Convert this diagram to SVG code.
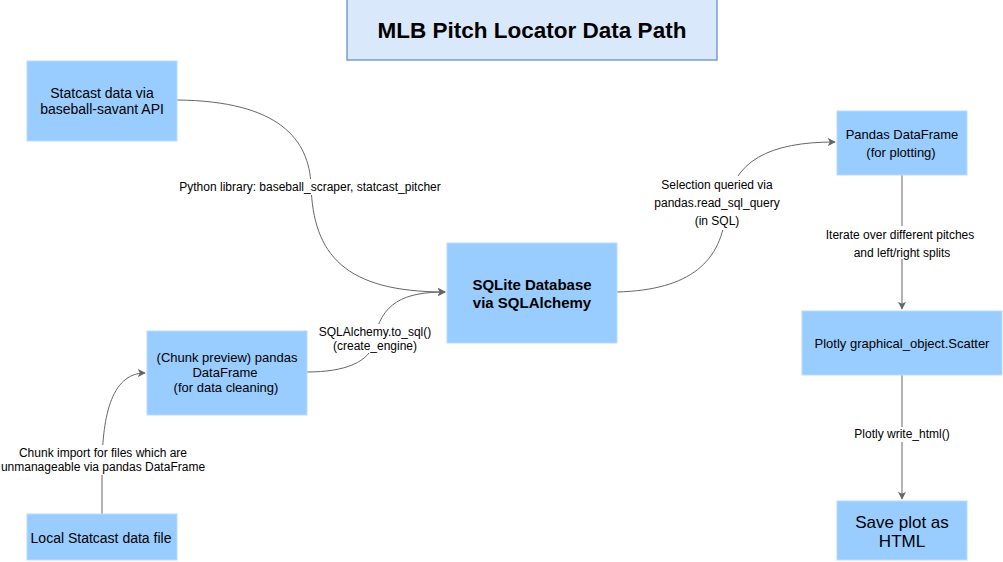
<svg xmlns="http://www.w3.org/2000/svg" width="1003" height="562" viewBox="0 0 1003 562">
<defs>
<style>
.node{fill:#99ccff;stroke:#b8dcff;stroke-width:1}
.title{fill:#dae8fc;stroke:#6c8ebf;stroke-width:1.3}
text{font-family:"Liberation Sans",Arial,Helvetica,sans-serif;fill:#000;text-anchor:middle}
.t14{font-size:14px}
.t13{font-size:13px}
.b{font-weight:bold;font-size:15px}
.lbl{font-size:12px}
.edge{fill:none;stroke:#666666;stroke-width:1}
.bg{fill:#ffffff}
</style>
<marker id="arr" viewBox="0 0 10 10" refX="9" refY="5" markerWidth="8" markerHeight="8" markerUnits="userSpaceOnUse" orient="auto">
<path d="M0,0 L10,5 L0,10 L2.5,5 Z" fill="#666666"/>
</marker>
</defs>
<rect width="1003" height="562" fill="#ffffff"/>

<g id="title">
<rect class="title" x="347" y="-1" width="370" height="61"/>
<text x="532" y="38" style="font-size:22.5px;font-weight:bold">MLB Pitch Locator Data Path</text>
</g>

<g id="connectors">
<path class="edge" marker-end="url(#arr)" d="M177,100 C 280,101 309,140 311,185 C 313,255 345,292 445,292"/>
<path class="edge" marker-end="url(#arr)" d="M307,372 C 345,372 370,362 374,342 C 380,302 405,292 445,292"/>
<path class="edge" marker-end="url(#arr)" d="M102,514 L102,470 C 102,420 110,373 145,373"/>
<path class="edge" marker-end="url(#arr)" d="M617,292 C 690,290 722,262 726,210 C 732,160 770,142 835,142"/>
<path class="edge" marker-end="url(#arr)" d="M902,175 L902,309"/>
<path class="edge" marker-end="url(#arr)" d="M902,375 L902,499"/>

<rect class="bg" x="177" y="179" width="266" height="16"/>
<text class="lbl" x="310" y="191">Python library: baseball_scraper, statcast_pitcher</text>

<rect class="bg" x="317" y="324" width="116" height="29"/>
<text class="lbl" x="375" y="336">SQLAlchemy.to_sql()</text>
<text class="lbl" x="375" y="350">(create_engine)</text>

<rect class="bg" x="0" y="445" width="206" height="30"/>
<text class="lbl" x="103" y="457">Chunk import for files which are</text>
<text class="lbl" x="103" y="471">unmanageable via pandas DataFrame</text>

<rect class="bg" x="654" y="176" width="128" height="54"/>
<text class="lbl" x="717" y="189">Selection queried via</text>
<text class="lbl" x="717" y="207">pandas.read_sql_query</text>
<text class="lbl" x="717" y="225">(in SQL)</text>

<rect class="bg" x="824" y="226" width="154" height="33"/>
<text class="lbl" x="900" y="239">Iterate over different pitches</text>
<text class="lbl" x="902" y="257">and left/right splits</text>

<rect class="bg" x="853" y="427" width="98" height="15"/>
<text class="lbl" x="902" y="438">Plotly write_html()</text>
</g>

<g id="statcast">
<rect class="node" x="27" y="61" width="150" height="80"/>
<text class="t14" x="102" y="98">Statcast data via</text>
<text class="t14" x="102" y="114">baseball-savant API</text>
</g>

<g id="sqlite">
<rect class="node" x="447" y="243" width="170" height="100"/>
<text class="b" x="532" y="290">SQLite Database</text>
<text class="b" x="532" y="308">via SQLAlchemy</text>
</g>

<g id="chunk">
<rect class="node" x="147" y="331" width="160" height="84"/>
<text class="t13" x="227" y="362">(Chunk preview) pandas</text>
<text class="t13" x="225" y="377">DataFrame</text>
<text class="t13" x="226" y="392">(for data cleaning)</text>
</g>

<g id="local">
<rect class="node" x="27" y="514" width="150" height="46"/>
<text class="t14" x="101" y="543">Local Statcast data file</text>
</g>

<g id="pandas">
<rect class="node" x="837" y="111" width="130" height="64"/>
<text class="t13" x="902" y="139">Pandas DataFrame</text>
<text class="t13" x="901" y="157">(for plotting)</text>
</g>

<g id="plotly">
<rect class="node" x="802" y="311" width="200" height="64"/>
<text class="t13" x="902" y="348">Plotly graphical_object.Scatter</text>
</g>

<g id="save">
<rect class="node" x="837" y="501" width="130" height="59"/>
<text style="font-size:17px" x="902" y="528">Save plot as</text>
<text style="font-size:17px" x="902" y="547">HTML</text>
</g>
</svg>
